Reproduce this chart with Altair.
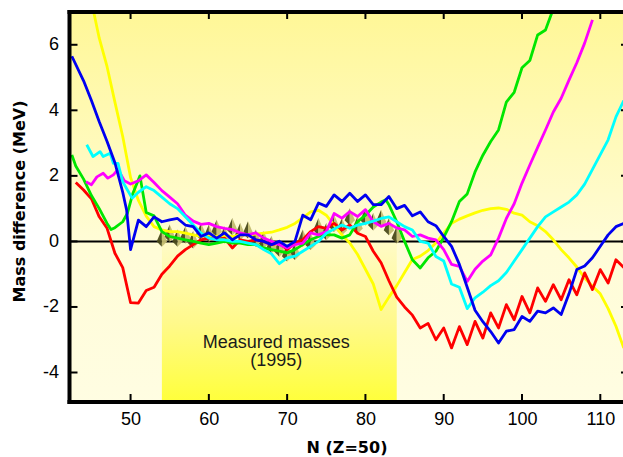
import altair as alt
import pandas as pd

# ---------------- data: mass differences (MeV) vs neutron number N, Z = 50 ----------------
RED_N = [43, 44, 45, 46, 47, 48, 49, 50, 51, 52, 53, 54, 55, 56, 57, 58, 59, 60, 61, 62,
         63, 64, 65, 66, 67, 68, 69, 70, 71, 72, 73, 74, 75, 76, 77, 78, 79, 80, 81, 82,
         83, 84, 85, 86, 87, 88, 89, 90, 91, 92, 93, 94, 95, 96, 97, 98, 99, 100, 101, 102,
         103, 104, 105, 106, 107, 108, 109, 110, 111, 112, 113]
RED_V = [1.8, 1.57, 1.3, 0.75, 0.4, -0.36, -0.8, -1.87, -1.88, -1.5, -1.4, -1.0, -0.75, -0.45, -0.25, -0.1, 0.05, 0.1, 0.05, 0.1,
         -0.2, 0.05, 0.0, 0.05, 0.0, -0.1, -0.05, -0.25, -0.05, 0.05, 0.3, 0.45, 0.4, 0.55, 0.35, 0.5, 0.25, 0.15, -0.3, -0.65,
         -1.2, -1.7, -2.0, -2.25, -2.64, -2.5, -3.0, -2.64, -3.25, -2.6, -3.15, -2.44, -2.95, -2.18, -2.64, -1.93, -2.39, -1.68, -2.18, -1.42,
         -1.83, -1.32, -1.78, -1.17, -1.63, -0.96, -1.47, -0.86, -1.27, -0.56, -0.8]

BLUE_N = [42.5, 44, 45, 46, 47, 48, 48.5, 49, 49.5, 50, 51, 52, 53, 54, 55, 56, 57, 58, 59, 60,
          61, 62, 63, 64, 65, 66, 67, 68, 69, 70, 71, 72, 73, 74, 75, 76, 77, 78, 79, 80,
          81, 82, 83, 84, 85, 86, 87, 88, 89, 90, 91, 92, 93, 94, 95, 96, 97, 98, 99, 100,
          101, 102, 103, 104, 105, 106, 107, 108, 109, 110, 111, 112, 113]
BLUE_V = [5.65, 4.9, 4.3, 3.65, 3.05, 2.4, 1.95, 1.5, 0.95, -0.25, 0.65, 0.45, 0.75, 0.6, 0.66, 0.7, 0.5, 0.45, 0.15, 0.26,
          0.1, 0.26, 0.05, 0.2, 0.2, 0.05, 0.0, -0.1, 0.0, -0.15, 0.0, 0.8, 0.66, 1.17, 1.07, 1.42, 1.22, 1.47, 1.22, 1.42,
          1.12, 1.12, 1.37, 1.0, 1.1, 0.78, 0.9, 0.6, 0.48, 0.15, -0.15, -0.7, -1.4, -2.1, -2.45, -2.75, -3.1, -2.74, -2.69, -2.29,
          -2.44, -2.13, -2.18, -2.03, -2.23, -1.6, -0.86, -0.75, -0.5, -0.15, 0.2, 0.45, 0.55]

GREEN_N = [42.5, 43, 44, 45, 46, 47, 47.5, 48, 49, 49.6, 50.3, 51.2, 52, 53, 54, 55, 56, 57, 58, 59,
           60, 61, 62, 63, 64, 65, 66, 67, 68, 69, 70, 71, 72, 73, 74, 75, 76, 77, 78, 79,
           80, 81, 82, 82.6, 83, 84, 85, 86, 87, 88, 89, 90, 91, 92, 93, 94, 95, 96, 97, 98,
           99, 100, 101, 102, 103, 104]
GREEN_V = [2.64, 2.3, 1.9, 1.4, 1.0, 0.55, 0.36, 0.42, 0.6, 0.86, 1.47, 2.0, 0.88, 0.78, 0.3, 0.15, 0.1, 0.05, 0.0, -0.05,
           -0.1, -0.05, 0.0, -0.05, -0.05, -0.1, -0.1, -0.2, -0.25, -0.3, -0.35, -0.25, -0.1, 0.05, 0.15, 0.2, 0.2, 0.1, 0.2, 0.6,
           0.8, 1.05, 1.2, 1.27, 1.12, 0.6, 0.0, -0.56, -0.81, -0.5, -0.3, 0.12, 0.6, 1.22, 1.45, 2.12, 2.63, 3.05, 3.4, 4.25,
           4.55, 5.3, 5.52, 6.3, 6.45, 7.1]

MAGENTA_N = [44.3, 45, 45.7, 46.5, 47.1, 47.8, 48.4, 49.2, 50, 51, 52, 53, 54, 55, 56, 57, 58, 59, 60, 61,
             62, 63, 64, 65, 66, 67, 68, 69, 70, 71, 72, 73, 74, 75, 76, 77, 78, 79, 80, 81,
             82, 83, 84, 85, 86, 87, 88, 89, 90, 91, 92, 93, 94, 95, 96, 97, 98, 99, 100, 101,
             102, 103, 104, 105, 106, 107, 108, 109]
MAGENTA_V = [1.82, 1.73, 1.97, 2.08, 1.93, 2.03, 2.2, 1.85, 1.75, 1.85, 2.03, 1.8, 1.55, 1.35, 1.15, 0.8, 0.62, 0.52, 0.55, 0.45,
             0.4, 0.36, 0.26, 0.2, 0.26, 0.1, 0.0, -0.1, -0.2, -0.1, -0.05, 0.26, 0.2, 0.3, 0.85, 0.71, 0.91, 0.76, 0.97, 0.6,
             0.46, 0.55, 0.41, 0.35, 0.15, 0.2, 0.1, 0.05, -0.25, -0.7, -0.76, -1.22, -0.85, -0.6, -0.41, 0.1, 0.7, 1.15, 1.78, 2.33,
             2.87, 3.4, 3.95, 4.37, 4.92, 5.45, 6.05, 6.76]

CYAN_N = [44.4, 45.2, 46.1, 46.5, 47.4, 47.8, 48.4, 49, 49.6, 50.2, 51, 52, 53, 54, 55, 56, 57, 58, 59, 60,
          61, 62, 63, 64, 65, 66, 67, 68, 69, 70, 71, 72, 73, 74, 75, 76, 77, 78, 79, 80,
          81, 82, 83, 84, 85, 86, 87, 88, 89, 90, 91, 92, 93, 94, 95, 96, 97, 98, 99, 100,
          101, 102, 103, 104, 105, 106, 107, 108, 109, 110, 111, 112, 113]
CYAN_V = [2.95, 2.59, 2.74, 2.59, 2.69, 2.38, 2.38, 1.82, 1.57, 1.32, 1.5, 1.67, 1.55, 1.35, 1.15, 1.0, 0.75, 0.5, 0.25, 0.1,
          0.05, 0.05, 0.0, 0.0, -0.05, -0.1, -0.25, -0.38, -0.68, -0.5, -0.45, -0.3, -0.15, 0.0, 0.25, 0.38, 0.5, 0.4, 0.5, 0.55,
          0.62, 0.7, 0.75, 0.6, 0.45, 0.35, 0.0, -0.05, -0.46, -0.6, -1.3, -1.4, -2.05, -1.72, -1.55, -1.35, -1.2, -0.95, -0.6, -0.25,
          0.1, 0.45, 0.75, 0.9, 1.05, 1.2, 1.42, 1.75, 2.2, 2.65, 3.1, 3.8, 4.3]

YELLOW_N = [45.2, 46, 47, 48, 49, 50, 51, 52, 53, 54, 55, 56, 57, 58, 59, 60, 61, 62, 63, 64,
            65, 66, 67, 68, 69, 70, 71, 72, 73, 74, 75, 76, 77, 78, 79, 80, 81, 82, 83, 84,
            85, 86, 87, 88, 89, 90, 91, 92, 93, 94, 95, 96, 97, 98, 99, 100, 101, 102, 103, 104,
            105, 106, 107, 108, 109, 110, 111, 112, 113]
YELLOW_V = [7.1, 6.2, 5.33, 4.25, 3.2, 1.95, 1.25, 0.77, 0.45, 0.35, 0.3, 0.3, 0.25, 0.2, 0.15, 0.2, 0.15, 0.18, 0.15, 0.2,
            0.2, 0.22, 0.25, 0.28, 0.35, 0.43, 0.55, 0.72, 0.9, 0.95, 0.8, 0.5, 0.2, -0.05, -0.4, -0.85, -1.3, -2.08, -1.7, -1.35,
            -0.95, -0.55, -0.45, -0.28, -0.05, 0.25, 0.55, 0.68, 0.78, 0.87, 0.95, 1.0, 1.02, 0.98, 0.86, 0.8, 0.6, 0.48, 0.3, 0.05,
            -0.25, -0.5, -0.78, -1.12, -1.37, -1.6, -2.05, -2.59, -3.25]

# measured masses (1995 evaluation), referenced to the same zero
MEAS_N = list(range(54, 85))
MEAS_V = [0.1, 0.25, 0.1, 0.2, 0.05, 0.3, 0.25, 0.4, 0.2, 0.45, 0.3, 0.35, 0.1, 0.05, -0.1, -0.2, -0.35, -0.3, 0.1, 0.0,
          0.45, 0.3, 0.55, 0.45, 0.75, 0.5, 0.75, 0.6, 0.7, 0.45, 0.2]

# axis ticks
X_TICKS = [50, 60, 70, 80, 90, 100, 110]
Y_TICKS = [-4, -2, 0, 2, 4, 6]

# shaded regions: whole upper half, and the range of measured masses
REGION_N0, REGION_N1 = [42.2], [112.9]
MEAS_RANGE = [54, 84]
NOTE_LINES = ["Measured masses", "(1995)"]
NOTE_N = [68.6, 68.6]
NOTE_V = [-3.24, -3.8]

# ---------------- layout ----------------
XDOM = [42.2, 112.9]
YDOM = [-4.9, 7.0]
W, H = 553.5, 390
LABEL_FONT = "Liberation Sans"
TITLE_FONT = "DejaVu Sans"

x_scale = alt.Scale(domain=XDOM, nice=False, zero=False)
y_scale = alt.Scale(domain=YDOM, nice=False, zero=False)

x_axis = alt.Axis(values=X_TICKS, title="N (Z=50)", grid=False, ticks=False, tickSize=0, domain=False,
                  labelFont=LABEL_FONT, labelFontSize=18, labelColor="black", labelPadding=8,
                  titleFont=TITLE_FONT, titleFontSize=16, titleFontWeight="bold", titleColor="black",
                  titleX=277, titleY=45, titleAlign="center", titleBaseline="middle")
y_axis = alt.Axis(values=Y_TICKS, title="Mass difference (MeV)", grid=False, ticks=False, tickSize=0, domain=False,
                  labelFont=LABEL_FONT, labelFontSize=18, labelColor="black", labelPadding=11,
                  labelExpr="'' + datum.value",
                  titleFont=TITLE_FONT, titleFontSize=16, titleFontWeight="bold", titleColor="black",
                  titleAngle=270, titleX=-50, titleY=189, titleAlign="center", titleBaseline="middle")


def X(field):
    return alt.X(f"{field}:Q", scale=x_scale, axis=x_axis)


def Y(field):
    return alt.Y(f"{field}:Q", scale=y_scale, axis=y_axis)


def grad(stops):
    return alt.LinearGradient(gradient="linear", x1=0, x2=0, y1=0, y2=1,
                              stops=[alt.GradientStop(color=c, offset=o) for o, c in stops])


# background bands
upper_df = pd.DataFrame({"n0": REGION_N0, "n1": REGION_N1, "v0": [YDOM[1]], "v1": [0.0]})
lower_df = pd.DataFrame({"n0": REGION_N0, "n1": REGION_N1, "v0": [0.0], "v1": [YDOM[0]]})
box_df = pd.DataFrame({"n0": [MEAS_RANGE[0]], "n1": [MEAS_RANGE[1]], "v0": [0.0], "v1": [YDOM[0]]})

upper = alt.Chart(upper_df).mark_rect(color=grad([(0, "#fff797"), (1, "#fffcd6")])).encode(
    x=X("n0"), x2="n1", y=Y("v0"), y2="v1")
lower = alt.Chart(lower_df).mark_rect(color=grad([(0, "#fffcd6"), (1, "#fffde2")])).encode(
    x=X("n0"), x2="n1", y=Y("v0"), y2="v1")
box = alt.Chart(box_df).mark_rect(color=grad([(0, "#fffbc6"), (0.5, "#fff98c"), (1, "#ffff3a")])).encode(
    x=X("n0"), x2="n1", y=Y("v0"), y2="v1")

zero = alt.Chart(pd.DataFrame({"v": [0.0]})).mark_rule(color="black", strokeWidth=2).encode(y=Y("v"))

# measured masses drawn as shaded pyramids (dark left face, light right face)
meas_df = pd.DataFrame({"N": MEAS_N, "v": MEAS_V})
pyr_dark = alt.Chart(meas_df).mark_point(shape="M0,-1L-0.6,0.4L0,1Z", filled=True, fill="#4a4a1a",
                                         size=300, strokeWidth=0, opacity=0.95).encode(x=X("N"), y=Y("v"))
pyr_light = alt.Chart(meas_df).mark_point(shape="M0,-1L0.6,0.4L0,1Z", filled=True, fill="#c4bd70",
                                          size=300, strokeWidth=0, opacity=0.95).encode(x=X("N"), y=Y("v"))

series = [
    (YELLOW_N, YELLOW_V, "#ffff00"),
    (RED_N, RED_V, "#ff0000"),
    (GREEN_N, GREEN_V, "#00e600"),
    (MAGENTA_N, MAGENTA_V, "#ff00ff"),
    (CYAN_N, CYAN_V, "#00ffff"),
    (BLUE_N, BLUE_V, "#0000f0"),
]
line_layers = []
for ns, vs, col in series:
    df = pd.DataFrame({"N": ns, "v": vs})
    line_layers.append(
        alt.Chart(df).mark_line(color=col, strokeWidth=2.8, clip=True, strokeJoin="round").encode(
            x=X("N"), y=Y("v")))

note = alt.Chart(pd.DataFrame({"N": NOTE_N, "v": NOTE_V, "t": NOTE_LINES})).mark_text(
    font=LABEL_FONT, fontSize=18, color="#1a1a1a", align="center", baseline="alphabetic").encode(
    x=X("N"), y=Y("v"), text="t:N")

# frame and inward ticks
one = pd.DataFrame({"k": [0]})
frame_left = alt.Chart(one).mark_rule(color="black", strokeWidth=4).encode(
    x=alt.value(0), y=alt.value(-2), y2=alt.value(H + 2))
frame_bottom = alt.Chart(one).mark_rule(color="black", strokeWidth=4).encode(
    x=alt.value(-2), x2=alt.value(W + 5), y=alt.value(H))
frame_top = alt.Chart(one).mark_rule(color="black", strokeWidth=4).encode(
    x=alt.value(-2), x2=alt.value(W + 5), y=alt.value(0))

xt = pd.DataFrame({"N": X_TICKS})
yt = pd.DataFrame({"v": Y_TICKS})
tick_bottom = alt.Chart(xt).mark_rule(color="black", strokeWidth=2).encode(
    x=X("N"), y=alt.value(H), y2=alt.value(H - 8))
tick_top = alt.Chart(xt).mark_rule(color="black", strokeWidth=2).encode(
    x=X("N"), y=alt.value(0), y2=alt.value(7))
tick_left = alt.Chart(yt).mark_rule(color="black", strokeWidth=2).encode(
    y=Y("v"), x=alt.value(0), x2=alt.value(8))
tick_right = alt.Chart(yt).mark_rule(color="black", strokeWidth=2).encode(
    y=Y("v"), x=alt.value(W - 2), x2=alt.value(W + 4))

chart = alt.layer(
    upper, lower, box, zero, pyr_dark, pyr_light, *line_layers, note,
    tick_bottom, tick_top, tick_left, tick_right, frame_left, frame_bottom, frame_top,
).properties(
    width=W, height=H,
    autosize=alt.AutoSizeParams(type="none"),
    padding={"left": 69.5, "top": 12, "right": 0, "bottom": 55},
).configure_view(stroke=None).configure(background="white")

chart.save("out.html", embed_options={"renderer": "svg", "actions": False})
